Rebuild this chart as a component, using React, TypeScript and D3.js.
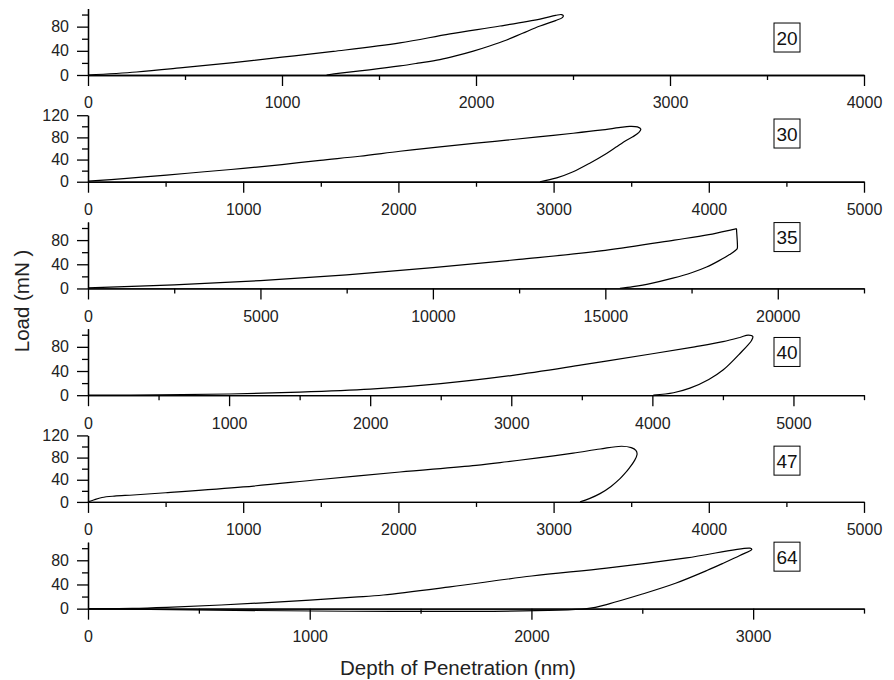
import * as d3 from 'd3';
import React, { useRef, useEffect } from 'react';

// load-depth curves (depth nm, load mN)
const curve20: [number, number][] = [
  [0, 0], [250, 5], [500, 12.5], [750, 20.5], [1000, 29.5], [1264, 39], [1608, 53],
  [1866, 68], [2124, 81], [2330, 92.5], [2410, 98.5], [2440, 100], [2450, 98], [2445, 95],
  [2410, 90], [2330, 81], [2240, 69], [2158, 58], [2070, 48], [1986, 39.5], [1900, 32],
  [1814, 25.5], [1700, 19.5], [1608, 15], [1450, 8.5], [1300, 3], [1230, 0]
];
const curve30: [number, number][] = [
  [0, 1], [250, 6], [506, 12], [750, 18], [1000, 24], [1250, 31], [1495, 38.7], [1750, 46],
  [2010, 55], [2268, 63], [2500, 69.5], [2697, 75], [2900, 81], [3126, 87.5], [3300, 93],
  [3420, 97.5], [3490, 100], [3540, 99], [3562, 95], [3550, 89], [3510, 81], [3470, 75],
  [3400, 62], [3341, 51], [3230, 33], [3126, 18], [3020, 7], [2912, 0]
];
const curve35: [number, number][] = [
  [0, 1], [2500, 6], [5000, 13], [7500, 22.6], [10000, 34.5], [12500, 48], [15000, 63],
  [17000, 80], [18000, 89], [18750, 98.2], [18800, 98.7], [18806, 95], [18830, 68],
  [18820, 65.5], [18600, 56], [18300, 46], [17935, 35.5], [17500, 26], [16958, 17],
  [16300, 8], [15800, 3], [15423, 0]
];
const curve40: [number, number][] = [
  [0, 0], [500, 0.5], [1000, 2], [1500, 5], [2000, 10], [2500, 19], [3000, 32.5], [3500, 50],
  [4000, 68.5], [4300, 80], [4500, 88.5], [4620, 95.5], [4680, 99.5], [4712, 97], [4704, 91],
  [4621, 69], [4503, 42], [4400, 26], [4266, 11.6], [4150, 4], [4007, 0]
];
const curve47: [number, number][] = [
  [0, 0], [40, 4], [90, 8], [170, 10.5], [292, 12.5], [500, 16.5], [1000, 27], [1495, 40.5],
  [2010, 54], [2500, 66], [2700, 72.5], [2900, 79.5], [3126, 88], [3300, 95.5], [3438, 100.5],
  [3500, 98], [3530, 93], [3538, 86], [3520, 74], [3490, 62], [3455, 50], [3428, 42],
  [3370, 28], [3299, 15], [3230, 6], [3170, 0]
];
const curve64: [number, number][] = [
  [0, 0], [200, 0.3], [355, 2], [600, 6], [1001, 14], [1200, 19], [1332, 22.6], [1633, 36],
  [2001, 54], [2339, 67], [2700, 84], [2986, 100], [2994, 98], [2940, 88], [2870, 76],
  [2791, 63], [2650, 42], [2490, 23], [2350, 8], [2250, 0], [0, 0]
];

const curves = [curve20, curve30, curve35, curve40, curve47, curve64];
const sampleLabels = ['20', '30', '35', '40', '47', '64'];
const xMaxes = [4000, 5000, 22500, 5500, 5000, 3500];
const xSteps = [1000, 1000, 5000, 1000, 1000, 1000];
const yMaxes = [110, 120, 110, 110, 120, 110];
const labelLoads = [62, 87, 85, 71.5, 74.5, 86];

const W = 894;
const H = 680;
const left = 88;
const right = 864;
const firstBase = 75;
const panelGap = 106.73;
const panelH = 66.5;
const font = 'Liberation Sans, Arial, Helvetica, sans-serif';

const App = () => {
  const svgRef = useRef<SVGSVGElement>(null);

  useEffect(() => {
    const svg = d3.select(svgRef.current);
    svg.selectAll('*').remove();

    curves.forEach((data, i) => {
      const base = firstBase + i * panelGap;
      const x = d3.scaleLinear().domain([0, xMaxes[i]]).range([left, right]);
      const y = d3.scaleLinear().domain([0, yMaxes[i]]).range([base, base - panelH]);

      const step = xSteps[i];
      const xMajor = d3.range(0, xMaxes[i] + 1, step);
      const xMinor = d3.range(step / 2, xMaxes[i] + 1, step);
      const yMajor = d3.range(0, yMaxes[i] + 1, 40);
      const yMinor = d3.range(20, yMaxes[i] + 1, 40);

      const g = svg.append('g');

      // x axis
      g.append('g')
        .attr('transform', `translate(0,${base})`)
        .call(d3.axisBottom(x).tickValues(xMinor).tickSize(5).tickSizeOuter(0).tickFormat(() => ''));
      g.append('g')
        .attr('transform', `translate(0,${base})`)
        .call(d3.axisBottom(x).tickValues(xMajor).tickSize(11).tickPadding(11).tickSizeOuter(0).tickFormat(d3.format('d')));

      // y axis
      g.append('g')
        .attr('transform', `translate(${left},0)`)
        .call(d3.axisLeft(y).tickValues(yMinor).tickSize(6).tickSizeOuter(0).tickFormat(() => ''));
      g.append('g')
        .attr('transform', `translate(${left},0)`)
        .call(d3.axisLeft(y).tickValues(yMajor).tickSize(11).tickPadding(8).tickSizeOuter(0).tickFormat(d3.format('d')));

      g.selectAll('.domain').attr('stroke', '#000').attr('stroke-width', 1.3);
      g.selectAll('.tick line').attr('stroke', '#000').attr('stroke-width', 1.3);
      g.selectAll('.tick text')
        .attr('fill', '#222')
        .style('font-family', font)
        .style('font-size', '16px');

      // curve
      g.append('path')
        .datum(data)
        .attr('fill', 'none')
        .attr('stroke', '#000')
        .attr('stroke-width', 1.2)
        .attr('d', d3.line<[number, number]>()
          .x(d => x(d[0]))
          .y(d => y(d[1]))
          .curve(d3.curveCatmullRom.alpha(0.5)));

      // sample label box
      const cy = y(labelLoads[i]);
      const cx = 787;
      g.append('rect')
        .attr('x', cx - 13)
        .attr('y', cy - 14.5)
        .attr('width', 26)
        .attr('height', 29)
        .attr('fill', 'none')
        .attr('stroke', '#000')
        .attr('stroke-width', 1);
      g.append('text')
        .attr('x', cx)
        .attr('y', cy + 7)
        .attr('text-anchor', 'middle')
        .style('font-family', font)
        .style('font-size', '19px')
        .attr('fill', '#111')
        .text(sampleLabels[i]);
    });

    svg.append('text')
      .attr('x', 458)
      .attr('y', 675)
      .attr('text-anchor', 'middle')
      .style('font-family', font)
      .style('font-size', '20.5px')
      .attr('fill', '#222')
      .text('Depth of Penetration (nm)');

    svg.append('text')
      .attr('transform', 'translate(29,301) rotate(-90)')
      .attr('text-anchor', 'middle')
      .style('font-family', font)
      .style('font-size', '20.5px')
      .attr('fill', '#222')
      .text('Load (mN )');
  }, []);

  return (
    <svg
      ref={svgRef}
      width={W}
      height={H}
      style={{ position: 'absolute', left: 0, top: 0, background: '#fff' }}
    />
  );
};

export default App;
